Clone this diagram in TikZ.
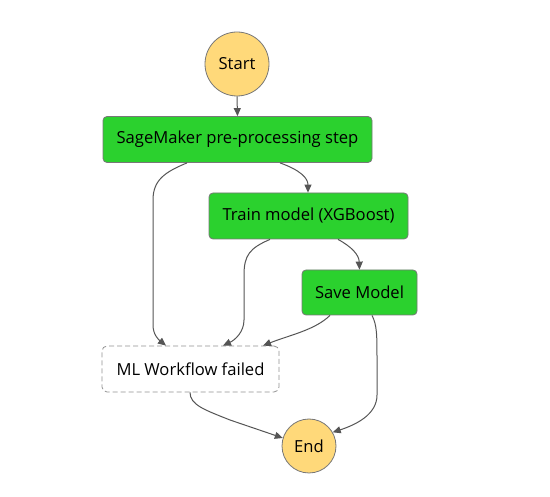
\documentclass[tikz,border=0pt]{standalone}
\usepackage{fontspec}
\setmainfont{Open Sans}
\usetikzlibrary{arrows.meta,calc}
\definecolor{stepgreen}{HTML}{2BD12E}
\definecolor{termyellow}{HTML}{FFD97A}
\definecolor{edgegray}{HTML}{555555}
\definecolor{bordergray}{HTML}{777777}
\begin{document}
\begin{tikzpicture}[x=1pt,y=-1pt,
  every node/.style={font=\fontsize{16.6}{19}\selectfont, text=black},
  task/.style={draw=bordergray, line width=0.8pt, fill=stepgreen, rounded corners=4pt, minimum height=46pt, inner sep=0pt},
  term/.style={draw=bordergray, line width=0.8pt, fill=termyellow, circle, inner sep=0pt},
  failbox/.style={draw=bordergray!80, dashed, dash pattern=on 5pt off 3pt, line width=0.8pt, fill=white, rounded corners=5pt, minimum height=46pt, inner sep=0pt},
  conn/.style={draw=edgegray, line width=1pt, -{Triangle[length=8pt,width=7pt]}}]
\useasboundingbox (0,0) rectangle (550,497);
\fill[white] (0,0) rectangle (550,497);
\node[term, minimum size=64pt] (start) at (237,64) {Start};
\node[task, minimum width=269pt] (pre) at (237.5,139.5) {SageMaker pre-processing step};
\node[task, minimum width=199pt] (train) at (308.5,216) {Train model (XGBoost)};
\node[task, minimum width=115pt, minimum height=45pt] (save) at (359.5,292.5) {Save Model};
\node[failbox, minimum width=177pt] (fail) at (190.5,369) {ML Workflow failed};
\node[term, minimum size=54pt] (end) at (309,446) {End};
\draw[conn] (start.south) -- (pre.north);
\draw[conn] ([xshift=-50.5pt]pre.south) .. controls (165,172) and (153,180) .. (153,200) -- (153,325) .. controls (153,335) and (159,340) .. ([xshift=-24.5pt]fail.north);
\draw[conn] ([xshift=42.5pt]pre.south) .. controls (300,170) and (308,178) .. ([xshift=-0.5pt]train.north);
\draw[conn] ([xshift=-38.5pt]train.south) .. controls (250,248) and (244,255) .. (244,275) -- (244,320) .. controls (244,332) and (235,340) .. ([xshift=32.5pt]fail.north);
\draw[conn] ([xshift=29.5pt]train.south) .. controls (352,247) and (359,255) .. (save.north);
\draw[conn] ([xshift=-29.5pt]save.south) .. controls (315,330) and (290,335) .. ([xshift=72.5pt]fail.north);
\draw[conn] ([xshift=12.5pt]save.south) .. controls (377,325) and (377,335) .. (377,360) -- (377,395) .. controls (377,415) and (355,425) .. (end.30);
\draw[conn] ([xshift=-0.5pt]fail.south) .. controls (190,405) and (205,410) .. (230,420) -- (end.163);
\end{tikzpicture}
\end{document}
